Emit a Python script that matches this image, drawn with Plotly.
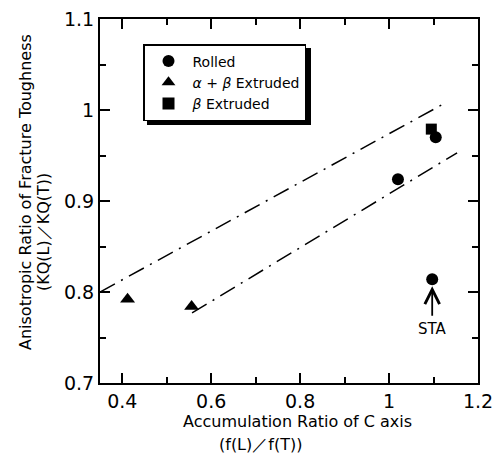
import plotly.graph_objects as go

# --- data ---
rolled_x = [1.02, 1.105, 1.097]
rolled_y = [0.924, 0.970, 0.814]
ab_x = [0.412, 0.556]
ab_y = [0.792, 0.784]
b_x = [1.095]
b_y = [0.979]
upper_line_x = [0.35, 1.12]
upper_line_y = [0.80, 1.006]
lower_line_x = [0.557, 1.153]
lower_line_y = [0.777, 0.953]
x_ticks = [0.4, 0.6, 0.8, 1.0, 1.2]
x_tick_labels = ["0.4", "0.6", "0.8", "1", "1.2"]
y_ticks = [0.7, 0.8, 0.9, 1.0, 1.1]
y_tick_labels = ["0.7", "0.8", "0.9", "1", "1.1"]
sta_x, sta_y = 1.097, 0.814

FONT = "DejaVu Sans, Liberation Sans, Arial, sans-serif"
dash = "17px,7px,2px,7px"

# page body has an 8px margin: shift everything by -8px
OFF = 8
W, H = 504 - OFF, 454 - OFF
L, R, T, B = 100 - OFF, 504 - 478, 19 - OFF, 454 - 383


def px(xp):
    return (xp - 100) / 378


def py(yp):
    return (383 - yp) / 364


fig = go.Figure()
fig.add_trace(go.Scatter(x=upper_line_x, y=upper_line_y, mode="lines",
                         line=dict(color="black", width=1.5, dash=dash),
                         showlegend=False, hoverinfo="skip"))
fig.add_trace(go.Scatter(x=lower_line_x, y=lower_line_y, mode="lines",
                         line=dict(color="black", width=1.5, dash=dash),
                         showlegend=False, hoverinfo="skip"))
fig.add_trace(go.Scatter(x=rolled_x, y=rolled_y, mode="markers", name="Rolled",
                         marker=dict(symbol="circle", size=12, color="black")))
fig.add_trace(go.Scatter(x=ab_x, y=ab_y, mode="markers",
                         name="<i>α</i> + <i>β</i> Extruded",
                         marker=dict(symbol="triangle-up", size=13, color="black")))
fig.add_trace(go.Scatter(x=b_x, y=b_y, mode="markers", name="<i>β</i> Extruded",
                         marker=dict(symbol="square", size=11, color="black")))

axis_common = dict(showline=True, linecolor="black", linewidth=2, mirror="allticks",
                   ticks="inside", ticklen=10, tickwidth=2, tickcolor="black",
                   showgrid=False, zeroline=False, automargin=False,
                   ticklabeloverflow="allow",
                   tickfont=dict(family=FONT, size=19, color="black"))

fig.update_xaxes(range=[0.35, 1.2], tickvals=x_ticks, ticktext=x_tick_labels,
                 minor=dict(ticks="inside", ticklen=6, tickwidth=1.5, dtick=0.1,
                            tick0=0.3, tickcolor="black"),
                 ticklabelstandoff=0,
                 **axis_common)
fig.update_yaxes(range=[0.7, 1.1], tickvals=y_ticks, ticktext=y_tick_labels,
                 minor=dict(ticks="inside", ticklen=6, tickwidth=1.5, dtick=0.05,
                            tick0=0.7, tickcolor="black"),
                 **axis_common)

# STA arrow
fig.add_annotation(x=sta_x, y=sta_y, ax=0, ay=38, xref="x", yref="y",
                   text="", showarrow=True, arrowhead=5, arrowsize=1.6,
                   arrowwidth=1.8, arrowcolor="black", standoff=7)
fig.add_annotation(x=sta_x, y=sta_y, xref="x", yref="y", yshift=-50,
                   text="STA", showarrow=False,
                   font=dict(family=FONT, size=15, color="black"))

# axis titles as annotations
tfont = dict(family=FONT, size=16, color="black")
fig.add_annotation(text="Anisotropic Ratio of Fracture Toughness", xref="paper", yref="paper",
                   x=px(25), y=py(192), textangle=-90,
                   showarrow=False, font=tfont, xanchor="center", yanchor="middle")
fig.add_annotation(text="(KQ(L)／KQ(T))", xref="paper", yref="paper",
                   x=px(44), y=py(232), textangle=-90,
                   showarrow=False, font=tfont, xanchor="center", yanchor="middle")
fig.add_annotation(text="Accumulation Ratio of C axis", xref="paper", yref="paper",
                   x=px(297), y=py(421),
                   showarrow=False, font=tfont, xanchor="center", yanchor="middle")
fig.add_annotation(text="(f(L)／f(T))", xref="paper", yref="paper",
                   x=px(260), y=py(444),
                   showarrow=False, font=tfont, xanchor="center", yanchor="middle")

# legend shadow
fig.add_shape(type="rect", xref="paper", yref="paper",
              x0=px(147), x1=px(311), y0=py(125), y1=py(48),
              fillcolor="black", line=dict(width=0), layer="above")

fig.update_layout(
    width=W, height=H, autosize=False,
    margin=dict(l=L, r=R, t=T, b=B),
    plot_bgcolor="white", paper_bgcolor="white",
    showlegend=True,
    legend=dict(x=px(143), y=py(44), xanchor="left", yanchor="top",
                bgcolor="white", bordercolor="black", borderwidth=1.5,
                font=dict(family=FONT, size=14, color="black"),
                itemwidth=38,
                itemsizing="constant", tracegroupgap=0),
)

fig.write_html("out.html")
